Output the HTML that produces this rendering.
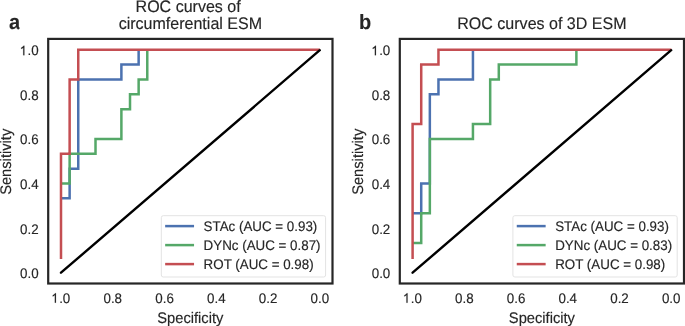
<!DOCTYPE html>
<html><head><meta charset="utf-8"><style>
html,body{margin:0;padding:0;background:#fff;width:685px;height:326px;overflow:hidden}
svg{display:block;will-change:transform}
text{font-family:'Liberation Sans',sans-serif;fill:#262626;stroke:#262626;stroke-width:0.15px;stroke-linejoin:round;text-rendering:geometricPrecision}
</style></head><body>
<svg width="685" height="326" viewBox="0 0 685 326">
<rect x="0" y="0" width="685" height="326" fill="#fff"/>
<path d="M62.25,198.37 L69.63,198.37 L69.63,168.63 L78.25,168.63 L78.25,79.43 L121.39,79.43 L121.39,64.57 L138.64,64.57 L138.64,50.95" fill="none" stroke="#4C72B0" stroke-width="2.5" stroke-linecap="square" stroke-linejoin="miter"/>
<path d="M62.25,183.50 L69.63,183.50 L69.63,153.77 L95.51,153.77 L95.51,138.90 L121.39,138.90 L121.39,109.17 L130.01,109.17 L130.01,94.30 L138.64,94.30 L138.64,79.43 L147.27,79.43 L147.27,50.95" fill="none" stroke="#55A868" stroke-width="2.5" stroke-linecap="square" stroke-linejoin="miter"/>
<path d="M61.00,257.83 L61.00,153.77 L69.63,153.77 L69.63,79.43 L78.25,79.43 L78.25,49.70 L318.80,49.70" fill="none" stroke="#C44E52" stroke-width="2.5" stroke-linecap="square" stroke-linejoin="miter"/>
<path d="M61.00,272.70 L319.80,50.20" stroke="#000" stroke-width="2.4" stroke-linecap="round"/>
<rect x="161.30" y="215.70" width="164.30" height="61.30" rx="2" fill="#fff" fill-opacity="0.8" stroke="#e3e3e3" stroke-width="1"/>
<line x1="166.40" y1="226.10" x2="192.80" y2="226.10" stroke="#4C72B0" stroke-width="2.5" stroke-linecap="square"/>
<text transform="translate(203.60,230.50) scale(1,1.04)" font-size="13.37">STAc (AUC = 0.93)</text>
<line x1="166.40" y1="245.10" x2="192.80" y2="245.10" stroke="#55A868" stroke-width="2.5" stroke-linecap="square"/>
<text transform="translate(203.60,249.50) scale(1,1.04)" font-size="13.37">DYNc (AUC = 0.87)</text>
<line x1="166.40" y1="264.10" x2="192.80" y2="264.10" stroke="#C44E52" stroke-width="2.5" stroke-linecap="square"/>
<text transform="translate(203.60,268.50) scale(1,1.04)" font-size="13.37">ROT (AUC = 0.98)</text>
<rect x="48.2" y="38.9" width="284.30" height="244.60" fill="none" stroke="#262626" stroke-width="2.2" stroke-linecap="square"/>
<path transform="translate(51.71,302.70) scale(0.00653,-0.00679)" d="M653,0 L477,0 L477,1121 Q413,1060 320,1005 Q227,950 154,922 L154,1092 Q285,1154 384,1242 Q483,1330 524,1409 L653,1409 Z" fill="#262626" stroke="#262626" stroke-width="0.15" vector-effect="non-scaling-stroke"/><text transform="translate(59.14,302.70) scale(1,1.04)" font-size="13.37">.0</text>
<text transform="translate(112.76,302.70) scale(1,1.04)" font-size="13.37" text-anchor="middle">0.8</text>
<text transform="translate(164.52,302.70) scale(1,1.04)" font-size="13.37" text-anchor="middle">0.6</text>
<text transform="translate(216.28,302.70) scale(1,1.04)" font-size="13.37" text-anchor="middle">0.4</text>
<text transform="translate(268.04,302.70) scale(1,1.04)" font-size="13.37" text-anchor="middle">0.2</text>
<text transform="translate(319.80,302.70) scale(1,1.04)" font-size="13.37" text-anchor="middle">0.0</text>
<text transform="translate(38.70,278.25) scale(1,1.04)" font-size="13.37" text-anchor="end">0.0</text>
<text transform="translate(38.70,233.65) scale(1,1.04)" font-size="13.37" text-anchor="end">0.2</text>
<text transform="translate(38.70,189.05) scale(1,1.04)" font-size="13.37" text-anchor="end">0.4</text>
<text transform="translate(38.70,144.45) scale(1,1.04)" font-size="13.37" text-anchor="end">0.6</text>
<text transform="translate(38.70,99.85) scale(1,1.04)" font-size="13.37" text-anchor="end">0.8</text>
<path transform="translate(20.12,55.25) scale(0.00653,-0.00679)" d="M653,0 L477,0 L477,1121 Q413,1060 320,1005 Q227,950 154,922 L154,1092 Q285,1154 384,1242 Q483,1330 524,1409 L653,1409 Z" fill="#262626" stroke="#262626" stroke-width="0.15" vector-effect="non-scaling-stroke"/><text transform="translate(27.55,55.25) scale(1,1.04)" font-size="13.37">.0</text>
<text transform="translate(190.35,322.90) scale(1,1.04)" font-size="14.7" text-anchor="middle">Specificity</text>
<text transform="translate(11.30,161.80) rotate(-90) scale(1,1.04)" font-size="14.7" text-anchor="middle">Sensitivity</text>
<text transform="translate(190.35,11.80) scale(1,1.04)" font-size="16.05" text-anchor="middle">ROC curves of&#160;</text>
<text transform="translate(190.35,28.70) scale(1,1.04)" font-size="16.05" text-anchor="middle">circumferential ESM</text>
<clipPath id="clipa"><rect x="0" y="0" width="19.5" height="40"/></clipPath>
<g clip-path="url(#clipa)"><text transform="translate(9.00,28.50) scale(1,1.04)" font-size="20" font-weight="bold" style="stroke-width:0.1px">a</text></g>
<path d="M413.85,213.23 L421.22,213.23 L421.22,183.50 L429.84,183.50 L429.84,94.30 L438.46,94.30 L438.46,79.43 L472.94,79.43 L472.94,50.95" fill="none" stroke="#4C72B0" stroke-width="2.5" stroke-linecap="square" stroke-linejoin="miter"/>
<path d="M413.85,242.97 L421.22,242.97 L421.22,213.23 L429.84,213.23 L429.84,138.90 L472.94,138.90 L472.94,124.03 L490.18,124.03 L490.18,79.43 L498.80,79.43 L498.80,64.57 L576.38,64.57 L576.38,50.95" fill="none" stroke="#55A868" stroke-width="2.5" stroke-linecap="square" stroke-linejoin="miter"/>
<path d="M412.60,257.83 L412.60,124.03 L421.22,124.03 L421.22,64.57 L438.46,64.57 L438.46,49.70 L670.20,49.70" fill="none" stroke="#C44E52" stroke-width="2.5" stroke-linecap="square" stroke-linejoin="miter"/>
<path d="M412.60,272.70 L671.20,50.20" stroke="#000" stroke-width="2.4" stroke-linecap="round"/>
<rect x="512.90" y="215.70" width="164.30" height="61.30" rx="2" fill="#fff" fill-opacity="0.8" stroke="#e3e3e3" stroke-width="1"/>
<line x1="518.00" y1="226.10" x2="544.40" y2="226.10" stroke="#4C72B0" stroke-width="2.5" stroke-linecap="square"/>
<text transform="translate(555.20,230.50) scale(1,1.04)" font-size="13.37">STAc (AUC = 0.93)</text>
<line x1="518.00" y1="245.10" x2="544.40" y2="245.10" stroke="#55A868" stroke-width="2.5" stroke-linecap="square"/>
<text transform="translate(555.20,249.50) scale(1,1.04)" font-size="13.37">DYNc (AUC = 0.83)</text>
<line x1="518.00" y1="264.10" x2="544.40" y2="264.10" stroke="#C44E52" stroke-width="2.5" stroke-linecap="square"/>
<text transform="translate(555.20,268.50) scale(1,1.04)" font-size="13.37">ROT (AUC = 0.98)</text>
<rect x="399.8" y="38.9" width="284.20" height="244.60" fill="none" stroke="#262626" stroke-width="2.2" stroke-linecap="square"/>
<path transform="translate(403.31,302.70) scale(0.00653,-0.00679)" d="M653,0 L477,0 L477,1121 Q413,1060 320,1005 Q227,950 154,922 L154,1092 Q285,1154 384,1242 Q483,1330 524,1409 L653,1409 Z" fill="#262626" stroke="#262626" stroke-width="0.15" vector-effect="non-scaling-stroke"/><text transform="translate(410.74,302.70) scale(1,1.04)" font-size="13.37">.0</text>
<text transform="translate(464.32,302.70) scale(1,1.04)" font-size="13.37" text-anchor="middle">0.8</text>
<text transform="translate(516.04,302.70) scale(1,1.04)" font-size="13.37" text-anchor="middle">0.6</text>
<text transform="translate(567.76,302.70) scale(1,1.04)" font-size="13.37" text-anchor="middle">0.4</text>
<text transform="translate(619.48,302.70) scale(1,1.04)" font-size="13.37" text-anchor="middle">0.2</text>
<text transform="translate(671.20,302.70) scale(1,1.04)" font-size="13.37" text-anchor="middle">0.0</text>
<text transform="translate(390.30,278.25) scale(1,1.04)" font-size="13.37" text-anchor="end">0.0</text>
<text transform="translate(390.30,233.65) scale(1,1.04)" font-size="13.37" text-anchor="end">0.2</text>
<text transform="translate(390.30,189.05) scale(1,1.04)" font-size="13.37" text-anchor="end">0.4</text>
<text transform="translate(390.30,144.45) scale(1,1.04)" font-size="13.37" text-anchor="end">0.6</text>
<text transform="translate(390.30,99.85) scale(1,1.04)" font-size="13.37" text-anchor="end">0.8</text>
<path transform="translate(371.72,55.25) scale(0.00653,-0.00679)" d="M653,0 L477,0 L477,1121 Q413,1060 320,1005 Q227,950 154,922 L154,1092 Q285,1154 384,1242 Q483,1330 524,1409 L653,1409 Z" fill="#262626" stroke="#262626" stroke-width="0.15" vector-effect="non-scaling-stroke"/><text transform="translate(379.15,55.25) scale(1,1.04)" font-size="13.37">.0</text>
<text transform="translate(541.90,322.90) scale(1,1.04)" font-size="14.7" text-anchor="middle">Specificity</text>
<text transform="translate(362.90,161.80) rotate(-90) scale(1,1.04)" font-size="14.7" text-anchor="middle">Sensitivity</text>
<text transform="translate(541.90,28.70) scale(1,1.04)" font-size="16.05" text-anchor="middle">ROC curves of 3D ESM</text>
<text transform="translate(359.00,28.50) scale(1,1.04)" font-size="20" font-weight="bold" style="stroke-width:0.1px">b</text>
</svg></body></html>
